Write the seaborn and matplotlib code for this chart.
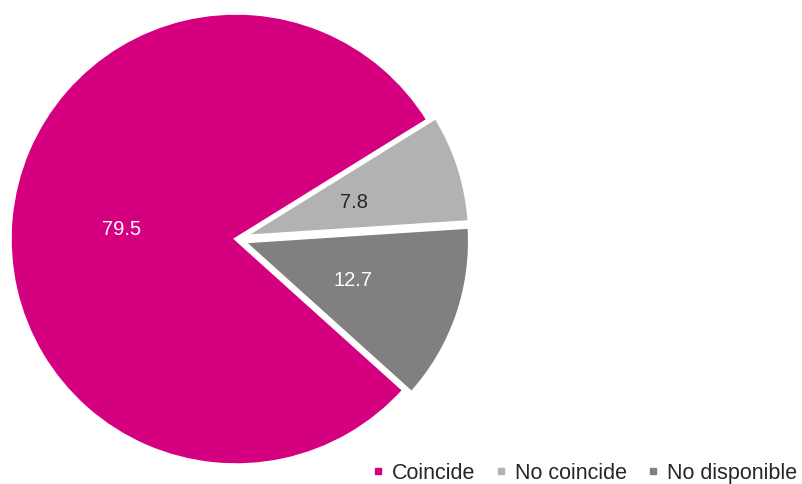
import matplotlib
matplotlib.use("Agg")
import matplotlib.pyplot as plt
from matplotlib.lines import Line2D
import seaborn as sns

categories = ["Coincide", "No coincide", "No disponible"]
values = [79.5, 7.8, 12.7]
colors = ["#D5007F", "#B2B2B2", "#808080"]
label_colors = ["white", "#262626", "white"]

sns.set_theme(style="white")
plt.rcParams["font.family"] = ["Liberation Sans", "DejaVu Sans"]

fig = plt.figure(figsize=(8.02, 4.85), dpi=100)

# pie centre ~ (236, 240) px from top-left, radius ~226 px
r_px = 226
lim = 1.05
w_px = 2 * lim * r_px
ax = fig.add_axes([(236 - w_px / 2) / 802, (485 - 240 - w_px / 2) / 485,
                   w_px / 802, w_px / 485])

wedges, texts, autotexts = ax.pie(
    values, colors=colors, startangle=-42, counterclock=False,
    explode=[0, 0.036, 0.036], autopct="%.1f", pctdistance=0.51,
    wedgeprops=dict(edgecolor="white", linewidth=2.5),
    textprops=dict(fontsize=14.5))
for t, c in zip(autotexts, label_colors):
    t.set_color(c)
for w in wedges:
    w.set_clip_on(False)
ax.set_xlim(-lim, lim)
ax.set_ylim(-lim, lim)
ax.set_aspect("equal")

handles = [Line2D([], [], marker="s", linestyle="none", markersize=4.5,
                  markerfacecolor=c, markeredgecolor=c) for c in colors]
fig.legend(handles, categories, loc="lower right", bbox_to_anchor=(1.005, -0.016),
           ncol=3, frameon=False, fontsize=15.5, handlelength=0.5,
           handletextpad=0.4, columnspacing=0.95, borderaxespad=0.0)

fig.savefig("out.png", dpi=100, facecolor="white")
